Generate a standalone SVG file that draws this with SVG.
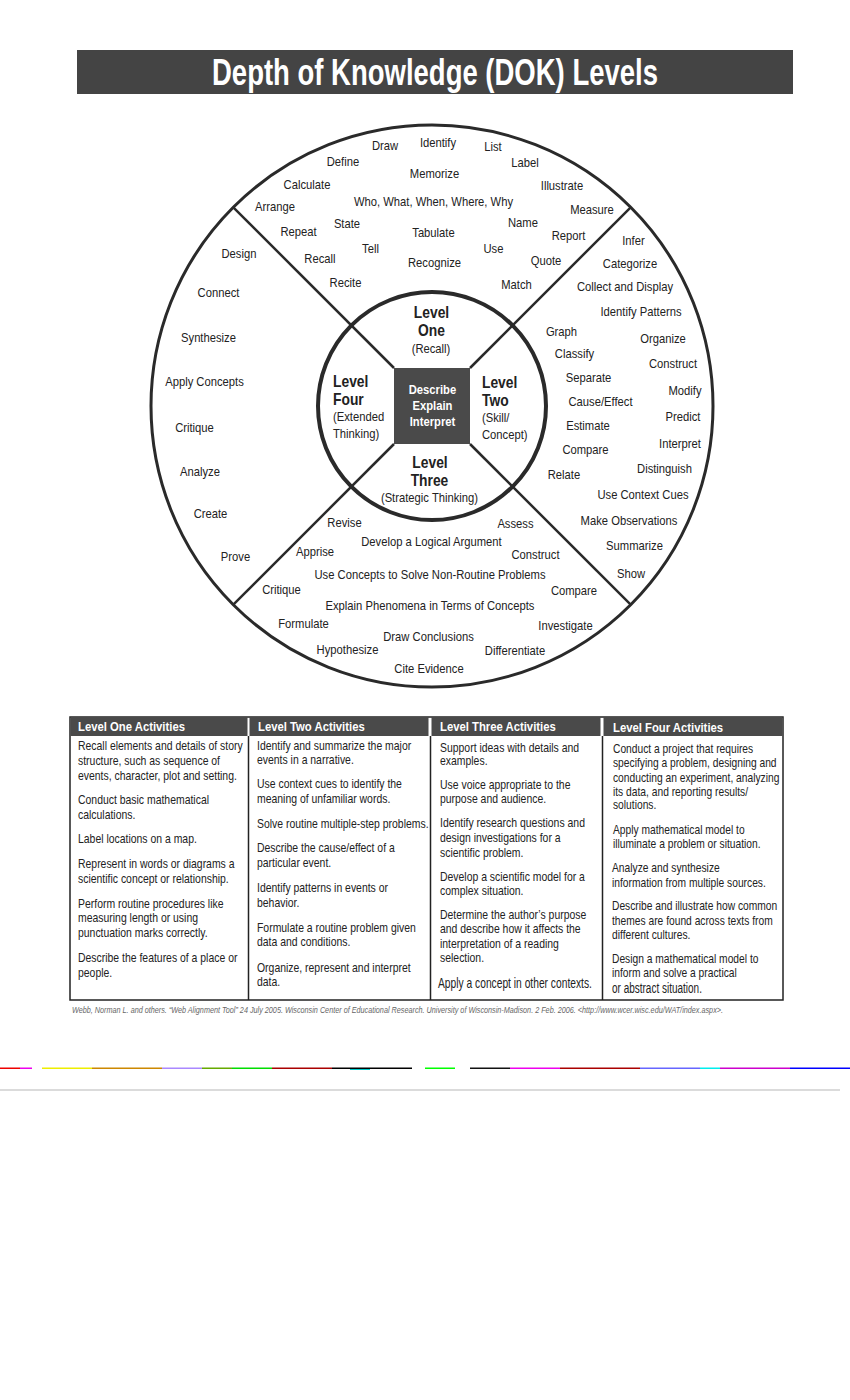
<svg xmlns="http://www.w3.org/2000/svg" width="850" height="1400" viewBox="0 0 850 1400">
<style>
  text { font-family: "Liberation Sans", Arial, sans-serif; }
  .w { font-size: 13px; fill: #222; text-anchor: middle; }
  .lv { font-size: 16px; font-weight: bold; fill: #222; }
  .ls { font-size: 13px; fill: #222; }
  .c { text-anchor: middle; }
  .sq { font-size: 13px; font-weight: bold; fill: #fff; text-anchor: middle; }
  .t { font-size: 12px; fill: #222; }
  .h { font-size: 13px; font-weight: bold; fill: #fff; }
  .ring { fill: none; stroke: #2a2a2a; }
  .div { stroke: #2a2a2a; stroke-width: 2.5; fill: none; }
  .tl { stroke: #222; stroke-width: 1.5; fill: none; }
</style>

<rect x="0" y="0" width="850" height="1400" fill="#fff"/>

<g id="title">
  <rect x="77" y="50" width="716" height="44" fill="#444"/>
  <text x="435" y="85" text-anchor="middle" textLength="446" lengthAdjust="spacingAndGlyphs" style="font-size: 36px; font-weight: bold; fill: #fff;">Depth of Knowledge (DOK) Levels</text>
</g>

<g id="wheel">
  <circle class="ring" cx="432" cy="406" r="281" stroke-width="3"/>
  <circle class="ring" cx="432" cy="406" r="114" stroke-width="4"/>
</g>

<g id="connectors">
  <line class="div" x1="394" y1="368" x2="233.3" y2="207.3"/>
  <line class="div" x1="470" y1="368" x2="630.7" y2="207.3"/>
  <line class="div" x1="394" y1="444" x2="233.3" y2="604.7"/>
  <line class="div" x1="470" y1="444" x2="630.7" y2="604.7"/>
</g>

<g id="center">
  <rect x="394" y="368" width="76" height="76" fill="#4a4a4a"/>
  <g transform="scale(0.865 1)">
    <text class="sq" x="500" y="394">Describe</text>
    <text class="sq" x="500" y="410">Explain</text>
    <text class="sq" x="500" y="426">Interpret</text>
  </g>
</g>

<g id="level-one-label" transform="scale(0.865 1)">
  <text class="lv c" x="498.84" y="318">Level</text>
  <text class="lv c" x="498.84" y="336">One</text>
  <text class="ls c" x="498.27" y="353">(Recall)</text>
</g>
<g id="level-two-label" transform="scale(0.865 1)">
  <text class="lv" x="557.23" y="388">Level</text>
  <text class="lv" x="557.23" y="406">Two</text>
  <text class="ls" x="557.23" y="422">(Skill/</text>
  <text class="ls" x="557.23" y="439">Concept)</text>
</g>
<g id="level-three-label" transform="scale(0.865 1)">
  <text class="lv c" x="497.11" y="468">Level</text>
  <text class="lv c" x="496.53" y="486">Three</text>
  <text class="ls c" x="496.53" y="502">(Strategic Thinking)</text>
</g>
<g id="level-four-label" transform="scale(0.865 1)">
  <text class="lv" x="384.97" y="387">Level</text>
  <text class="lv" x="384.97" y="405">Four</text>
  <text class="ls" x="384.97" y="421">(Extended</text>
  <text class="ls" x="384.97" y="438">Thinking)</text>
</g>

<g id="level-one-words" transform="scale(0.865 1)">
  <text class="w" x="445.09" y="150">Draw</text>
  <text class="w" x="506.36" y="147">Identify</text>
  <text class="w" x="569.94" y="151">List</text>
  <text class="w" x="396.53" y="166">Define</text>
  <text class="w" x="606.94" y="167">Label</text>
  <text class="w" x="502.31" y="178">Memorize</text>
  <text class="w" x="354.91" y="189">Calculate</text>
  <text class="w" x="649.71" y="190">Illustrate</text>
  <text class="w" x="317.92" y="211">Arrange</text>
  <text class="w" x="501.16" y="206">Who, What, When, Where, Why</text>
  <text class="w" x="684.39" y="214">Measure</text>
  <text class="w" x="401.16" y="228">State</text>
  <text class="w" x="604.62" y="227">Name</text>
  <text class="w" x="345.09" y="236">Repeat</text>
  <text class="w" x="501.16" y="237">Tabulate</text>
  <text class="w" x="657.23" y="240">Report</text>
  <text class="w" x="428.32" y="253">Tell</text>
  <text class="w" x="570.52" y="253">Use</text>
  <text class="w" x="369.94" y="263">Recall</text>
  <text class="w" x="502.31" y="267">Recognize</text>
  <text class="w" x="631.21" y="265">Quote</text>
  <text class="w" x="399.42" y="287">Recite</text>
  <text class="w" x="597.11" y="289">Match</text>
</g>

<g id="level-two-words" transform="scale(0.865 1)">
  <text class="w" x="732.37" y="245">Infer</text>
  <text class="w" x="728.32" y="268">Categorize</text>
  <text class="w" x="722.54" y="291">Collect and Display</text>
  <text class="w" x="741.04" y="316">Identify Patterns</text>
  <text class="w" x="649.13" y="336">Graph</text>
  <text class="w" x="766.47" y="343">Organize</text>
  <text class="w" x="664.16" y="358">Classify</text>
  <text class="w" x="778.03" y="368">Construct</text>
  <text class="w" x="680.35" y="382">Separate</text>
  <text class="w" x="791.91" y="395">Modify</text>
  <text class="w" x="694.22" y="406">Cause/Effect</text>
  <text class="w" x="789.60" y="421">Predict</text>
  <text class="w" x="679.77" y="430">Estimate</text>
  <text class="w" x="786.13" y="448">Interpret</text>
  <text class="w" x="676.88" y="454">Compare</text>
  <text class="w" x="768.21" y="473">Distinguish</text>
  <text class="w" x="652.02" y="479">Relate</text>
  <text class="w" x="743.35" y="499">Use Context Cues</text>
  <text class="w" x="727.17" y="525">Make Observations</text>
  <text class="w" x="733.53" y="550">Summarize</text>
  <text class="w" x="729.48" y="578">Show</text>
</g>

<g id="level-three-words" transform="scale(0.865 1)">
  <text class="w" x="398.27" y="527">Revise</text>
  <text class="w" x="595.95" y="528">Assess</text>
  <text class="w" x="498.84" y="546">Develop a Logical Argument</text>
  <text class="w" x="364.16" y="556">Apprise</text>
  <text class="w" x="619.08" y="559">Construct</text>
  <text class="w" x="497.11" y="579">Use Concepts to Solve Non-Routine Problems</text>
  <text class="w" x="325.43" y="594">Critique</text>
  <text class="w" x="663.58" y="595">Compare</text>
  <text class="w" x="497.11" y="610">Explain Phenomena in Terms of Concepts</text>
  <text class="w" x="350.87" y="628">Formulate</text>
  <text class="w" x="653.76" y="630">Investigate</text>
  <text class="w" x="495.38" y="641">Draw Conclusions</text>
  <text class="w" x="401.73" y="654">Hypothesize</text>
  <text class="w" x="595.38" y="655">Differentiate</text>
  <text class="w" x="495.95" y="673">Cite Evidence</text>
</g>

<g id="level-four-words" transform="scale(0.865 1)">
  <text class="w" x="276.30" y="258">Design</text>
  <text class="w" x="252.60" y="297">Connect</text>
  <text class="w" x="241.04" y="342">Synthesize</text>
  <text class="w" x="236.42" y="386">Apply Concepts</text>
  <text class="w" x="224.86" y="432">Critique</text>
  <text class="w" x="231.21" y="476">Analyze</text>
  <text class="w" x="243.35" y="518">Create</text>
  <text class="w" x="272.25" y="561">Prove</text>
</g>

<g id="activities-table">
  <rect class="tl" x="70" y="717" width="713" height="283"/>
  <rect x="70.5" y="717" width="177" height="19" fill="#4a4a4a"/>
  <rect x="249.5" y="717" width="179" height="19" fill="#4a4a4a"/>
  <rect x="431.5" y="717" width="169" height="19" fill="#4a4a4a"/>
  <rect x="603.5" y="717" width="179" height="19" fill="#4a4a4a"/>
  <line class="tl" x1="248.5" y1="736" x2="248.5" y2="1000"/>
  <line class="tl" x1="430.5" y1="736" x2="430.5" y2="1000"/>
  <line class="tl" x1="602.5" y1="736" x2="602.5" y2="1000"/>
  <g transform="scale(0.87 1)">
    <text class="h" x="89.66" y="731">Level One Activities</text>
    <text class="h" x="296.55" y="731">Level Two Activities</text>
    <text class="h" x="505.75" y="731">Level Three Activities</text>
    <text class="h" x="704.60" y="732">Level Four Activities</text>
  </g>
</g>

<g id="level-one-activities" transform="scale(0.87 1)">
  <text class="t" x="89.66" y="750">Recall elements and details of story</text>
  <text class="t" x="89.66" y="765">structure, such as sequence of</text>
  <text class="t" x="89.66" y="780">events, character, plot and setting.</text>
  <text class="t" x="89.66" y="804">Conduct basic mathematical</text>
  <text class="t" x="89.66" y="819">calculations.</text>
  <text class="t" x="89.66" y="843">Label locations on a map.</text>
  <text class="t" x="89.66" y="868">Represent in words or diagrams a</text>
  <text class="t" x="89.66" y="883">scientific concept or relationship.</text>
  <text class="t" x="89.66" y="908">Perform routine procedures like</text>
  <text class="t" x="89.66" y="922">measuring length or using</text>
  <text class="t" x="89.66" y="937">punctuation marks correctly.</text>
  <text class="t" x="89.66" y="962">Describe the features of a place or</text>
  <text class="t" x="89.66" y="977">people.</text>
</g>

<g id="level-two-activities" transform="scale(0.87 1)">
  <text class="t" x="295.40" y="750">Identify and summarize the major</text>
  <text class="t" x="295.40" y="764">events in a narrative.</text>
  <text class="t" x="295.40" y="788">Use context cues to identify the</text>
  <text class="t" x="295.40" y="803">meaning of unfamiliar words.</text>
  <text class="t" x="295.40" y="828">Solve routine multiple-step problems.</text>
  <text class="t" x="295.40" y="852">Describe the cause/effect of a</text>
  <text class="t" x="295.40" y="867">particular event.</text>
  <text class="t" x="295.40" y="892">Identify patterns in events or</text>
  <text class="t" x="295.40" y="907">behavior.</text>
  <text class="t" x="295.40" y="932">Formulate a routine problem given</text>
  <text class="t" x="295.40" y="946">data and conditions.</text>
  <text class="t" x="295.40" y="972">Organize, represent and interpret</text>
  <text class="t" x="295.40" y="986">data.</text>
</g>

<g id="level-three-activities">
  <g transform="scale(0.87 1)">
    <text class="t" x="505.75" y="752">Support ideas with details and</text>
    <text class="t" x="505.75" y="765">examples.</text>
    <text class="t" x="505.75" y="789">Use voice appropriate to the</text>
    <text class="t" x="505.75" y="803">purpose and audience.</text>
    <text class="t" x="505.75" y="827">Identify research questions and</text>
    <text class="t" x="505.75" y="842">design investigations for a</text>
    <text class="t" x="505.75" y="857">scientific problem.</text>
    <text class="t" x="505.75" y="881">Develop a scientific model for a</text>
    <text class="t" x="505.75" y="895">complex situation.</text>
    <text class="t" x="505.75" y="919">Determine the author’s purpose</text>
    <text class="t" x="505.75" y="933">and describe how it affects the</text>
    <text class="t" x="505.75" y="948">interpretation of a reading</text>
    <text class="t" x="505.75" y="962">selection.</text>
  </g>
  <text class="t" x="0" y="0" transform="translate(438 988) scale(0.733 1)" style="font-size:14px">Apply a concept in other contexts.</text>
</g>

<g id="level-four-activities">
  <g transform="scale(0.855 1)">
    <text class="t" x="716.96" y="753">Conduct a project that requires</text>
    <text class="t" x="716.96" y="767">specifying a problem, designing and</text>
    <text class="t" x="716.96" y="782">conducting an experiment, analyzing</text>
    <text class="t" x="716.96" y="796">its data, and reporting results/</text>
    <text class="t" x="716.96" y="809">solutions.</text>
    <text class="t" x="716.96" y="834">Apply mathematical model to</text>
    <text class="t" x="716.96" y="848">illuminate a problem or situation.</text>
    <text class="t" x="715.79" y="872">Analyze and synthesize</text>
    <text class="t" x="715.79" y="887">information from multiple sources.</text>
    <text class="t" x="715.79" y="910">Describe and illustrate how common</text>
    <text class="t" x="715.79" y="925">themes are found across texts from</text>
    <text class="t" x="715.79" y="939">different cultures.</text>
    <text class="t" x="715.79" y="963">Design a mathematical model to</text>
    <text class="t" x="715.79" y="977">inform and solve a practical</text>
  </g>
  <text class="t" x="0" y="0" transform="translate(612 993) scale(0.714 1)" style="font-size:14px">or abstract situation.</text>
</g>

<g id="citation">
  <text x="72" y="1013" textLength="651" lengthAdjust="spacingAndGlyphs" style="font-size: 8.5px; font-style: italic; fill: #666;">Webb, Norman L. and others. “Web Alignment Tool” 24 July 2005. Wisconsin Center of Educational Research. University of Wisconsin-Madison. 2 Feb. 2006. &lt;http://www.wcer.wisc.edu/WAT/index.aspx&gt;.</text>
</g>

<g id="scan-edge">
  <rect x="0" y="1067.5" width="20" height="1.5" fill="#e00"/>
  <rect x="20" y="1067.5" width="12" height="1.5" fill="#e0e"/>
  <rect x="42" y="1067.5" width="50" height="1.5" fill="#ee0"/>
  <rect x="92" y="1067.5" width="70" height="1.5" fill="#c80"/>
  <rect x="162" y="1067.5" width="40" height="1.5" fill="#a8f"/>
  <rect x="202" y="1067.5" width="30" height="1.5" fill="#6a0"/>
  <rect x="232" y="1067.5" width="40" height="1.5" fill="#0d0"/>
  <rect x="272" y="1067.5" width="60" height="1.5" fill="#a00"/>
  <rect x="332" y="1067.5" width="80" height="1.5" fill="#000"/>
  <rect x="350" y="1069" width="20" height="1" fill="#0cc"/>
  <rect x="425" y="1067.5" width="30" height="1.5" fill="#0f0"/>
  <rect x="470" y="1067.5" width="40" height="1.5" fill="#111"/>
  <rect x="510" y="1067.5" width="50" height="1.5" fill="#e0e"/>
  <rect x="560" y="1067.5" width="80" height="1.5" fill="#a00"/>
  <rect x="640" y="1067.5" width="60" height="1.5" fill="#66f"/>
  <rect x="700" y="1067.5" width="20" height="1.5" fill="#0ee"/>
  <rect x="720" y="1067.5" width="70" height="1.5" fill="#c0c"/>
  <rect x="790" y="1067.5" width="60" height="1.5" fill="#00f"/>
  <rect x="0" y="1089" width="840" height="2" fill="#ccc" opacity="0.7"/>
</g>
</svg>
